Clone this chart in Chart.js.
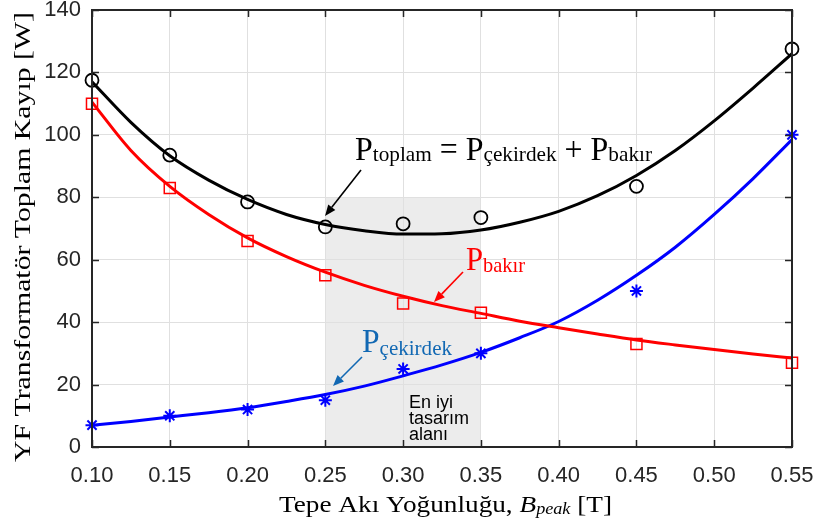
<!DOCTYPE html>
<html><head><meta charset="utf-8">
<script src="https://cdn.jsdelivr.net/npm/chart.js@4/dist/chart.umd.min.js"></script>
<style>html,body{margin:0;padding:0;background:#fff}canvas{display:block}</style>
</head><body>
<canvas id="c" width="818" height="527"></canvas>
<script>
// Measured points
const bPoints    = [0.10, 0.15, 0.20, 0.25, 0.30, 0.35, 0.45, 0.55];
const totalLoss  = [117.5, 93.5, 78.5, 70.5, 71.5, 73.5, 83.5, 127.5];
const copperLoss = [110, 83, 66, 55, 46, 43, 33, 27];
const coreLoss   = [7, 10, 12, 15, 25, 30, 50, 100];
// Fitted curves
const fitB      = [0.10,0.125,0.15,0.175,0.20,0.225,0.25,0.275,0.30,0.325,0.35,0.375,0.40,0.425,0.45,0.475,0.50,0.525,0.55];
const totalFit  = [117,104,93.3,85.5,79.3,74.5,71.3,69.3,68.2,68.3,69.5,72,75.5,80.5,87,95,104.5,115,126];
const copperFit = [110.5,95,83.5,74.5,67,61,56,51.8,48.3,45.3,42.8,40.3,38.2,36.2,34.3,32.7,31.2,29.8,28.5];
const coreFit   = [7,8.2,9.6,11,12.6,14.6,16.8,19.5,22.8,26.3,30.3,35,40.2,47,55,64,74.5,86,98.5];
// Ticks
const xTicks = [0.10,0.15,0.20,0.25,0.30,0.35,0.40,0.45,0.50,0.55];
const yTicks = [0,20,40,60,80,100,120,140];
// Shaded region
const bestRegion = {x0: 0.25, x1: 0.35, y0: 0, y1: 80};

const pts = (xs, ys) => xs.map((x, i) => ({x, y: ys[i]}));
const AX = '#262626';
const BLUE_TXT = '#1168b3';

function arrow(ctx, x1, y1, x2, y2, color) {
  ctx.save();
  ctx.strokeStyle = color; ctx.fillStyle = color; ctx.lineWidth = 1.6;
  const a = Math.atan2(y2 - y1, x2 - x1), L = 11, W = 4.5;
  const bx = x2 - L * Math.cos(a), by = y2 - L * Math.sin(a);
  ctx.beginPath(); ctx.moveTo(x1, y1); ctx.lineTo(bx, by); ctx.stroke();
  ctx.beginPath(); ctx.moveTo(x2, y2);
  ctx.lineTo(bx + W * Math.sin(a), by - W * Math.cos(a));
  ctx.lineTo(bx - W * Math.sin(a), by + W * Math.cos(a));
  ctx.closePath(); ctx.fill();
  ctx.restore();
}
function richWidth(ctx, parts) {
  let w = 0;
  for (const p of parts) { ctx.font = p.font; w += ctx.measureText(p.t).width; }
  return w;
}
// draws parts starting at x, stretched horizontally to targetW if given
function rich(ctx, parts, x, y, color, targetW) {
  ctx.save();
  const w = richWidth(ctx, parts);
  const s = targetW ? targetW / w : 1;
  ctx.translate(x, y); ctx.scale(s, 1);
  ctx.fillStyle = color; ctx.textBaseline = 'alphabetic'; ctx.textAlign = 'left';
  let cx = 0;
  for (const p of parts) {
    ctx.font = p.font;
    ctx.fillText(p.t, cx, p.dy || 0);
    cx += ctx.measureText(p.t).width;
  }
  ctx.restore();
}

const plugin = {
  id: 'decor',
  beforeDraw(chart) {
    const {ctx, scales: {x, y}} = chart;
    ctx.save();
    ctx.fillStyle = '#ececec';
    const X0 = x.getPixelForValue(bestRegion.x0), X1 = x.getPixelForValue(bestRegion.x1);
    const Y0 = y.getPixelForValue(bestRegion.y0), Y1 = y.getPixelForValue(bestRegion.y1);
    ctx.fillRect(X0, Y1, X1 - X0, Y0 - Y1);
    ctx.restore();
  },
  afterDraw(chart) {
    const {ctx, chartArea: a, scales: {x, y}} = chart;
    ctx.save();
    ctx.strokeStyle = AX; ctx.lineWidth = 2;
    ctx.strokeRect(a.left, a.top, a.right - a.left, a.bottom - a.top);
    ctx.lineWidth = 1.5;
    ctx.beginPath();
    for (const v of xTicks) {
      const px = Math.round(x.getPixelForValue(v)) + 0.5;
      ctx.moveTo(px, a.bottom); ctx.lineTo(px, a.bottom - 7);
      ctx.moveTo(px, a.top); ctx.lineTo(px, a.top + 7);
    }
    for (const v of yTicks) {
      const py = Math.round(y.getPixelForValue(v)) + 0.5;
      ctx.moveTo(a.left, py); ctx.lineTo(a.left + 7, py);
      ctx.moveTo(a.right, py); ctx.lineTo(a.right - 7, py);
    }
    ctx.stroke();
    ctx.restore();

    // Y title
    ctx.save();
    ctx.font = '24px "Liberation Serif"';
    ctx.fillStyle = '#000';
    const yt = 'YF Transformatör Toplam Kayıp [W]';
    const w = ctx.measureText(yt).width;
    ctx.translate(30, 237);
    ctx.rotate(-Math.PI / 2);
    ctx.scale(450 / w, 1);
    ctx.textAlign = 'center'; ctx.textBaseline = 'alphabetic';
    ctx.fillText(yt, 0, 0);
    ctx.restore();

    // X title
    rich(ctx, [
      {t: 'Tepe Akı Yoğunluğu, ', font: '24px "Liberation Serif"'},
      {t: 'B', font: 'italic 24px "Liberation Serif"'},
      {t: 'peak', font: 'italic 16px "Liberation Serif"', dy: 2},
      {t: ' [T]', font: '24px "Liberation Serif"'}
    ], 279, 512, '#000', 333);

    // Annotations
    const big = '33px "Liberation Serif"', sml = '22px "Liberation Serif"';
    rich(ctx, [
      {t: 'P', font: big}, {t: 'toplam', font: sml, dy: 1},
      {t: ' = P', font: big}, {t: 'çekirdek', font: sml, dy: 1},
      {t: ' + P', font: big}, {t: 'bakır', font: sml, dy: 1}
    ], 355, 160, '#000', 297);
    arrow(ctx, 361, 170, 325, 216, '#000');

    rich(ctx, [{t: 'P', font: big}, {t: 'bakır', font: sml, dy: 2}], 466, 270, '#ff0000', 59);
    arrow(ctx, 463, 272, 434, 302, '#ff0000');

    rich(ctx, [{t: 'P', font: big}, {t: 'çekirdek', font: sml, dy: 3}], 362, 352, BLUE_TXT, 90);
    arrow(ctx, 362, 357, 333, 386, BLUE_TXT);

    ctx.save();
    ctx.font = '18px "Liberation Sans"'; ctx.fillStyle = '#000';
    ctx.fillText('En iyi', 409, 408);
    ctx.fillText('tasarım', 409, 424);
    ctx.fillText('alanı', 409, 440);
    ctx.restore();
  }
};

const lineDs = (data, color) => ({
  data, showLine: true, borderColor: color, borderWidth: 3, pointRadius: 0,
  cubicInterpolationMode: 'monotone', fill: false
});
const markDs = (data, color, style, r, bw) => ({
  data, showLine: false, borderColor: color, backgroundColor: 'rgba(0,0,0,0)',
  pointStyle: style, pointRadius: r, pointBorderWidth: bw, pointHoverRadius: r, clip: false
});

new Chart(document.getElementById('c'), {
  type: 'scatter',
  data: {
    datasets: [
      lineDs(pts(fitB, totalFit), '#000000'),
      lineDs(pts(fitB, copperFit), '#ff0000'),
      lineDs(pts(fitB, coreFit), '#0000ff'),
      markDs(pts(bPoints, totalLoss), '#000000', 'circle', 6.5, 1.8),
      markDs(pts(bPoints, copperLoss), '#ff0000', 'rect', 7.8, 1.5),
      markDs(pts(bPoints, coreLoss), '#0000ff', 'star', 6.5, 2)
    ]
  },
  options: {
    responsive: false, animation: false, devicePixelRatio: 1,
    layout: {padding: {left: 0, right: 26, top: 10, bottom: 0}},
    plugins: {legend: {display: false}, tooltip: {enabled: false}},
    scales: {
      x: {
        type: 'linear', min: 0.1, max: 0.55,
        afterBuildTicks: s => { s.ticks = xTicks.map(v => ({value: v})); },
        afterFit: s => { s.height = 80; s.paddingLeft = 0; s.paddingRight = 0; },
        ticks: {callback: v => v.toFixed(2), font: {family: 'Liberation Sans', size: 22}, color: AX, padding: 16, maxRotation: 0, autoSkip: false},
        grid: {color: '#e0e0e0', drawTicks: false, lineWidth: 1},
        border: {display: false}
      },
      y: {
        min: 0, max: 140,
        afterBuildTicks: s => { s.ticks = yTicks.map(v => ({value: v})); },
        afterFit: s => { s.width = 92; s.paddingTop = 0; s.paddingBottom = 0; },
        ticks: {font: {family: 'Liberation Sans', size: 22}, color: AX, padding: 11},
        grid: {color: '#e0e0e0', drawTicks: false, lineWidth: 1},
        border: {display: false}
      }
    }
  },
  plugins: [plugin]
});
</script>
</body></html>
